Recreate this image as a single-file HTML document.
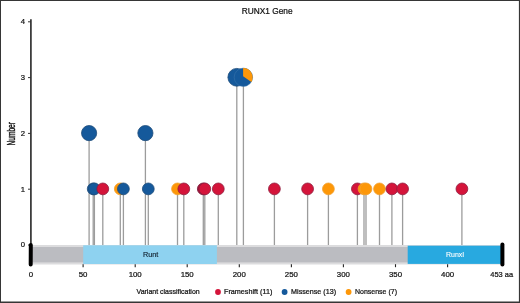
<!DOCTYPE html>
<html><head><meta charset="utf-8"><title>RUNX1 Gene</title>
<style>html,body{margin:0;padding:0;background:#fff}svg{display:block}text{font-family:"Liberation Sans",Arial,sans-serif;fill:#111;stroke:#111;stroke-width:0.22px}</style></head><body>
<svg width="520" height="303" viewBox="0 0 520 303">
<rect x="0" y="0" width="520" height="303" fill="#fff"/>
<line x1="89.1" y1="133.4" x2="89.1" y2="245.5" stroke="#9c9c9c" stroke-width="1.3"/>
<line x1="93.2" y1="189.2" x2="93.2" y2="245.5" stroke="#9c9c9c" stroke-width="1.3"/>
<line x1="94.4" y1="189.2" x2="94.4" y2="245.5" stroke="#9c9c9c" stroke-width="1.3"/>
<line x1="102.8" y1="189.2" x2="102.8" y2="245.5" stroke="#9c9c9c" stroke-width="1.3"/>
<line x1="120.3" y1="189.2" x2="120.3" y2="245.5" stroke="#9c9c9c" stroke-width="1.3"/>
<line x1="123.4" y1="189.2" x2="123.4" y2="245.5" stroke="#9c9c9c" stroke-width="1.3"/>
<line x1="145.4" y1="133.4" x2="145.4" y2="245.5" stroke="#9c9c9c" stroke-width="1.3"/>
<line x1="148.3" y1="189.2" x2="148.3" y2="245.5" stroke="#9c9c9c" stroke-width="1.3"/>
<line x1="177.5" y1="189.2" x2="177.5" y2="245.5" stroke="#9c9c9c" stroke-width="1.3"/>
<line x1="183.8" y1="189.2" x2="183.8" y2="245.5" stroke="#9c9c9c" stroke-width="1.3"/>
<line x1="203.3" y1="189.2" x2="203.3" y2="245.5" stroke="#9c9c9c" stroke-width="1.3"/>
<line x1="204.8" y1="189.2" x2="204.8" y2="245.5" stroke="#9c9c9c" stroke-width="1.3"/>
<line x1="218.3" y1="189.2" x2="218.3" y2="245.5" stroke="#9c9c9c" stroke-width="1.3"/>
<line x1="236.8" y1="77.6" x2="236.8" y2="245.5" stroke="#9c9c9c" stroke-width="1.3"/>
<line x1="243.4" y1="77.6" x2="243.4" y2="245.5" stroke="#9c9c9c" stroke-width="1.3"/>
<line x1="274.4" y1="189.2" x2="274.4" y2="245.5" stroke="#9c9c9c" stroke-width="1.3"/>
<line x1="307.6" y1="189.2" x2="307.6" y2="245.5" stroke="#9c9c9c" stroke-width="1.3"/>
<line x1="328.4" y1="189.2" x2="328.4" y2="245.5" stroke="#9c9c9c" stroke-width="1.3"/>
<line x1="357.4" y1="189.2" x2="357.4" y2="245.5" stroke="#9c9c9c" stroke-width="1.3"/>
<line x1="364.0" y1="189.2" x2="364.0" y2="245.5" stroke="#9c9c9c" stroke-width="1.3"/>
<line x1="366.0" y1="189.2" x2="366.0" y2="245.5" stroke="#9c9c9c" stroke-width="1.3"/>
<line x1="379.5" y1="189.2" x2="379.5" y2="245.5" stroke="#9c9c9c" stroke-width="1.3"/>
<line x1="391.9" y1="189.2" x2="391.9" y2="245.5" stroke="#9c9c9c" stroke-width="1.3"/>
<line x1="402.6" y1="189.2" x2="402.6" y2="245.5" stroke="#9c9c9c" stroke-width="1.3"/>
<line x1="461.9" y1="189.2" x2="461.9" y2="245.5" stroke="#9c9c9c" stroke-width="1.3"/>
<rect x="31" y="245" width="471" height="19.5" fill="#dcdcde"/>
<rect x="31" y="247" width="471" height="15.4" fill="#bbbcc1"/>
<rect x="83.2" y="245.3" width="133.7" height="18.7" fill="#8ed2f0"/>
<rect x="407.7" y="245.7" width="93.3" height="18.2" fill="#28a9e0"/>
<line x1="30.9" y1="19.2" x2="30.9" y2="246" stroke="#333" stroke-width="1.7"/>
<line x1="28" y1="245.0" x2="31" y2="245.0" stroke="#333" stroke-width="1"/>
<text x="25" y="247.3" font-size="7.7" text-anchor="end">0</text>
<line x1="28" y1="189.2" x2="31" y2="189.2" stroke="#333" stroke-width="1"/>
<text x="25" y="191.5" font-size="7.7" text-anchor="end">1</text>
<line x1="28" y1="133.4" x2="31" y2="133.4" stroke="#333" stroke-width="1"/>
<text x="25" y="135.7" font-size="7.7" text-anchor="end">2</text>
<line x1="28" y1="77.6" x2="31" y2="77.6" stroke="#333" stroke-width="1"/>
<text x="25" y="79.9" font-size="7.7" text-anchor="end">3</text>
<line x1="28" y1="21.8" x2="31" y2="21.8" stroke="#333" stroke-width="1"/>
<text x="25" y="24.1" font-size="7.7" text-anchor="end">4</text>
<line x1="30.8" y1="244.9" x2="30.7" y2="264.6" stroke="#000" stroke-width="4" stroke-linecap="round"/>
<line x1="502.4" y1="244.6" x2="502.4" y2="264.6" stroke="#000" stroke-width="4" stroke-linecap="round"/>
<line x1="83.1" y1="264.2" x2="83.1" y2="267.2" stroke="#222" stroke-width="1.1"/>
<text x="83.1" y="277.3" font-size="7.85" text-anchor="middle">50</text>
<line x1="135.2" y1="264.2" x2="135.2" y2="267.2" stroke="#222" stroke-width="1.1"/>
<text x="135.2" y="277.3" font-size="7.85" text-anchor="middle">100</text>
<line x1="187.2" y1="264.2" x2="187.2" y2="267.2" stroke="#222" stroke-width="1.1"/>
<text x="187.2" y="277.3" font-size="7.85" text-anchor="middle">150</text>
<line x1="239.3" y1="264.2" x2="239.3" y2="267.2" stroke="#222" stroke-width="1.1"/>
<text x="239.3" y="277.3" font-size="7.85" text-anchor="middle">200</text>
<line x1="291.4" y1="264.2" x2="291.4" y2="267.2" stroke="#222" stroke-width="1.1"/>
<text x="291.4" y="277.3" font-size="7.85" text-anchor="middle">250</text>
<line x1="343.4" y1="264.2" x2="343.4" y2="267.2" stroke="#222" stroke-width="1.1"/>
<text x="343.4" y="277.3" font-size="7.85" text-anchor="middle">300</text>
<line x1="395.5" y1="264.2" x2="395.5" y2="267.2" stroke="#222" stroke-width="1.1"/>
<text x="395.5" y="277.3" font-size="7.85" text-anchor="middle">350</text>
<line x1="447.6" y1="264.2" x2="447.6" y2="267.2" stroke="#222" stroke-width="1.1"/>
<text x="447.6" y="277.3" font-size="7.85" text-anchor="middle">400</text>
<text x="30.9" y="277.3" font-size="7.85" text-anchor="middle">0</text>
<text x="490.3" y="277.3" font-size="7.85" textLength="22.8" lengthAdjust="spacingAndGlyphs">453 aa</text>
<text x="143.1" y="256.9" font-size="7.7" textLength="15.3" lengthAdjust="spacingAndGlyphs" style="fill:#10202e;stroke:#10202e;stroke-width:0.15px">Runt</text>
<text x="446" y="256.8" font-size="7.3" textLength="18.2" lengthAdjust="spacingAndGlyphs" style="fill:#fff;stroke:#fff;stroke-width:0.1px">RunxI</text>
<circle cx="89.1" cy="133.1" r="7.6000000000000005" fill="#15599b" stroke="#1d4b7a" stroke-width="0.8"/>
<circle cx="93.2" cy="188.9" r="5.9" fill="#15599b" stroke="#1d4b7a" stroke-width="0.8"/>
<circle cx="94.4" cy="188.9" r="5.9" fill="#15599b" stroke="#1d4b7a" stroke-width="0.8"/>
<circle cx="102.8" cy="188.9" r="5.9" fill="#d4143a" stroke="#8f1c3e" stroke-width="0.8"/>
<circle cx="120.3" cy="188.9" r="5.9" fill="#fd9708" stroke="#f2a02c" stroke-width="0.8"/>
<circle cx="123.4" cy="188.9" r="5.9" fill="#15599b" stroke="#1d4b7a" stroke-width="0.8"/>
<circle cx="145.4" cy="133.1" r="7.6000000000000005" fill="#15599b" stroke="#1d4b7a" stroke-width="0.8"/>
<circle cx="148.3" cy="188.9" r="5.9" fill="#15599b" stroke="#1d4b7a" stroke-width="0.8"/>
<circle cx="177.5" cy="188.9" r="5.9" fill="#fd9708" stroke="#f2a02c" stroke-width="0.8"/>
<circle cx="183.8" cy="188.9" r="5.9" fill="#d4143a" stroke="#8f1c3e" stroke-width="0.8"/>
<circle cx="203.3" cy="188.9" r="5.9" fill="#a3123a" stroke="#7a1836" stroke-width="0.8"/>
<circle cx="204.8" cy="188.9" r="5.9" fill="#d4143a" stroke="#8f1c3e" stroke-width="0.8"/>
<circle cx="218.3" cy="188.9" r="5.9" fill="#d4143a" stroke="#8f1c3e" stroke-width="0.8"/>
<circle cx="236.8" cy="77.3" r="8.899999999999999" fill="#15599b" stroke="#1d4b7a" stroke-width="0.8"/>
<circle cx="243.4" cy="77.3" r="9.2" fill="#15599b" stroke="#3f78ad" stroke-width="0.5"/>
<path d="M243.1 76.3 L243.1 68.1 L243.4 68.1 A9.2 9.2 0 0 1 251.37 81.90 Z" fill="#fd9708"/>
<circle cx="274.4" cy="188.9" r="5.9" fill="#d4143a" stroke="#8f1c3e" stroke-width="0.8"/>
<circle cx="307.6" cy="188.9" r="5.9" fill="#d4143a" stroke="#8f1c3e" stroke-width="0.8"/>
<circle cx="328.4" cy="188.9" r="5.9" fill="#fd9708" stroke="#f2a02c" stroke-width="0.8"/>
<circle cx="357.4" cy="188.9" r="5.9" fill="#d4143a" stroke="#8f1c3e" stroke-width="0.8"/>
<circle cx="364.0" cy="188.9" r="5.9" fill="#fd9708" stroke="#f2a02c" stroke-width="0.8"/>
<circle cx="366.0" cy="188.9" r="5.9" fill="#fd9708" stroke="#f2a02c" stroke-width="0.8"/>
<circle cx="379.5" cy="188.9" r="5.9" fill="#fd9708" stroke="#f2a02c" stroke-width="0.8"/>
<circle cx="391.9" cy="188.9" r="5.9" fill="#d4143a" stroke="#8f1c3e" stroke-width="0.8"/>
<circle cx="402.6" cy="188.9" r="5.9" fill="#d4143a" stroke="#8f1c3e" stroke-width="0.8"/>
<circle cx="461.9" cy="188.9" r="5.9" fill="#d4143a" stroke="#8f1c3e" stroke-width="0.8"/>
<text x="241.7" y="14" font-size="8.3" textLength="50.9" lengthAdjust="spacing">RUNX1 Gene</text>
<text transform="translate(14.8,133.8) rotate(-90) scale(0.66,1)" font-size="10" style="stroke-width:0.4px" text-anchor="middle">Number</text>
<text x="136.5" y="294.2" font-size="7.1" textLength="63.2" lengthAdjust="spacingAndGlyphs">Variant classification</text>
<circle cx="218" cy="292" r="2.9" fill="#d4143a"/>
<text x="224" y="294.2" font-size="7.1" textLength="48.4" lengthAdjust="spacingAndGlyphs">Frameshift (11)</text>
<circle cx="284.6" cy="292" r="2.9" fill="#15599b"/>
<text x="291.1" y="294.2" font-size="7.1" textLength="45" lengthAdjust="spacingAndGlyphs">Missense (13)</text>
<circle cx="348.6" cy="292" r="2.9" fill="#fd9708"/>
<text x="355" y="294.2" font-size="7.1" textLength="42" lengthAdjust="spacingAndGlyphs">Nonsense (7)</text>
<path d="M0 0H520V303H0Z M1 1V301.6H518.9V1Z" fill="#363636" fill-rule="evenodd"/>
</svg></body></html>
